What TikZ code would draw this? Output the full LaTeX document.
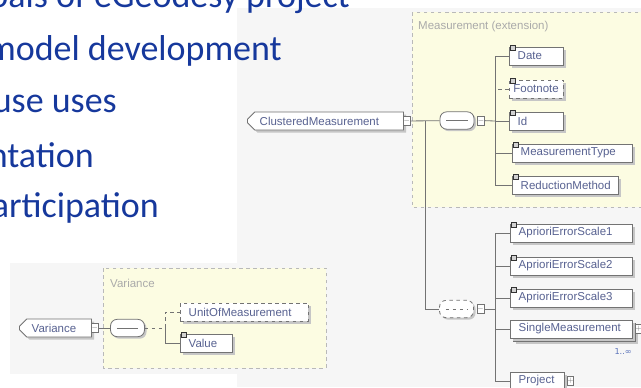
\documentclass[tikz,border=0pt]{standalone}
\usepackage{fontspec}
\usetikzlibrary{shapes.misc,shadows}
\newfontfamily\slidefont{Carlito}
\newfontfamily\xsdfont{Liberation Sans}
\newfontfamily\symfont{DejaVu Sans}
\definecolor{slideblue}{RGB}{22,56,156}
\definecolor{panelgray}{RGB}{246,246,246}
\definecolor{typeyellow}{RGB}{252,252,226}
\definecolor{elemtext}{RGB}{88,98,145}
\definecolor{labelgray}{RGB}{170,170,170}
\definecolor{linegray}{RGB}{115,115,115}
\tikzset{
  bullet/.style={anchor=base east, inner sep=0, text=slideblue, font=\slidefont\fontsize{30.7}{36}\selectfont},
  typebox/.style={draw=gray!55, dashed, fill=typeyellow, line width=0.6pt},
  typelabel/.style={anchor=west, inner sep=0, text=labelgray, font=\xsdfont\fontsize{9.8}{11}\selectfont},
  conn/.style={draw=linegray, line width=0.7pt},
  elem/.style={rectangle, anchor=west, draw=linegray, fill=white, line width=0.7pt,
    minimum height=0.54cm, inner xsep=0.25cm, inner ysep=0, align=left,
    text=elemtext, font=\xsdfont\fontsize{9.8}{11}\selectfont,
    drop shadow={shadow xshift=0.08cm, shadow yshift=-0.08cm, fill=gray!45, opacity=1}},
  optelem/.style={elem, dashed},
  rootelem/.style={elem, chamfered rectangle, chamfered rectangle corners={north west,south west},
    chamfered rectangle xsep=0.12cm},
  marker/.style={rectangle, anchor=west, draw=linegray, fill=white, line width=0.5pt,
    minimum width=0.2cm, minimum height=0.27cm, inner sep=0, text=linegray,
    font=\xsdfont\fontsize{6}{6}\selectfont},
  compline/.style={path picture={\draw[linegray, line width=0.8pt]
    ([xshift=-0.32cm]path picture bounding box.center) -- ([xshift=0.32cm]path picture bounding box.center);}},
  seqbox/.style={rectangle, rounded corners=0.2cm, draw=linegray, fill=white, line width=0.7pt,
    minimum width=1.02cm, minimum height=0.52cm, inner sep=0, compline,
    drop shadow={shadow xshift=0.06cm, shadow yshift=-0.06cm, fill=gray!45, opacity=1}},
  icon/.style={rectangle, draw=gray!40!black, fill=gray!35, line width=0.4pt, minimum size=0.16cm, inner sep=0},
}
\begin{document}
\begin{tikzpicture}[x=0.03cm,y=-0.03cm]
\useasboundingbox (0,0) rectangle (641,387);
\clip (0,0) rectangle (641,387);

% schema panels
\fill[panelgray] (237,8) rectangle (641,387);
\fill[panelgray] (10,263) rectangle (328,374);
\draw[typebox] (412,12) rectangle (650,207);
\draw[typebox] (103,268) rectangle (326,368);
\node[typelabel] (mlabel) at (418,27) {Measurement (extension)};
\node[typelabel] (vlabel) at (110,283) {Variance};

% slide text
\node[bullet] (goals) at (350,7) {Goals of eGeodesy project};
\node[bullet] (model) at (282,60) {model development};
\node[bullet] (uses) at (117,112) {use uses};
\node[bullet] (impl) at (94,167) {ntation};
\node[bullet] (part) at (159,217) {articipation};

% ClusteredMeasurement
\node[rootelem, text width=3.94cm] (cm) at (247,121) {ClusteredMeasurement};
\node[marker] (cmmark) at ([xshift=-0.02cm]cm.east) {$-$};
\node[seqbox] (mseq) at (457,120.5) {};
\node[marker] (mseqmark) at ([xshift=0.09cm]mseq.east) {$-$};
\coordinate (msplit) at (425,121);
\coordinate (mtrunk) at (495,121);
\draw[conn] (cmmark) -- (mseq);
\draw[conn] (mseqmark) -- (mtrunk);

\node[elem, text width=1.12cm] (date) at (509,56) {Date};
\node[optelem, text width=1.38cm, inner xsep=0.12cm] (footnote) at (509,89) {Footnote};
\node[elem, text width=1.12cm] (id) at (509,121) {Id};
\node[elem, text width=3.1cm] (mtype) at (512,153) {MeasurementType};
\node[elem, text width=2.68cm] (redmethod) at (512,185) {ReductionMethod};
\foreach \c in {date,id,mtype,redmethod}
  \draw[conn] (mtrunk) |- (\c);
\draw[conn, dashed] (mtrunk) |- (footnote);

% choice of scales and members
\node[seqbox, dashed] (mchoice) at (456.5,309) {};
\node[marker] (mchoicemark) at ([xshift=0.09cm]mchoice.east) {$-$};
\coordinate (ctrunk) at (495,309);
\draw[conn] (msplit) |- (mchoice);
\draw[conn] (mchoicemark) -- (ctrunk);

\node[elem, text width=3.16cm] (aes1) at (510,233) {AprioriErrorScale1};
\node[elem, text width=3.16cm] (aes2) at (510,266) {AprioriErrorScale2};
\node[elem, text width=3.16cm] (aes3) at (510,298) {AprioriErrorScale3};
\node[elem, text width=3.16cm] (smback) at (513,332) {};
\node[elem, text width=3.16cm] (single) at (510,329) {SingleMeasurement};
\node[marker] (singlemark) at ([xshift=0.06cm]single.east) {$+$};
\node[anchor=east, inner sep=0, text=slideblue!70, font=\symfont\fontsize{7}{8}\selectfont] (singlecard) at (632,352) {1..∞};
\node[elem, text width=1.12cm] (project) at (510,381) {Project};
\node[marker] (projectmark) at ([xshift=0.06cm]project.east) {$+$};
\foreach \c in {aes1,aes2,aes3,single,project}
  \draw[conn] (ctrunk) |- (\c);

% Variance
\node[rootelem, text width=1.42cm] (var) at (19,328) {Variance};
\node[marker] (varmark) at ([xshift=-0.02cm]var.east) {$-$};
\node[seqbox] (vseq) at (127.5,328) {};
\coordinate (vtrunk) at (165,328);
\draw[conn] (varmark) -- (vseq);
\draw[conn, dashed] (vseq) -- (vtrunk);
\node[optelem, text width=3.34cm] (uom) at (180,312) {UnitOfMeasurement};
\node[elem, text width=1.06cm] (value) at (180,343) {Value};
\draw[conn, dashed] (vtrunk) |- (uom);
\draw[conn] (vtrunk) |- (value);

\foreach \n in {date,footnote,id,mtype,redmethod,aes1,aes2,aes3,value}
  \node[icon] (\n-icon) at ([xshift=0.12cm,yshift=-0.04cm]\n.north west) {};
\end{tikzpicture}
\end{document}
